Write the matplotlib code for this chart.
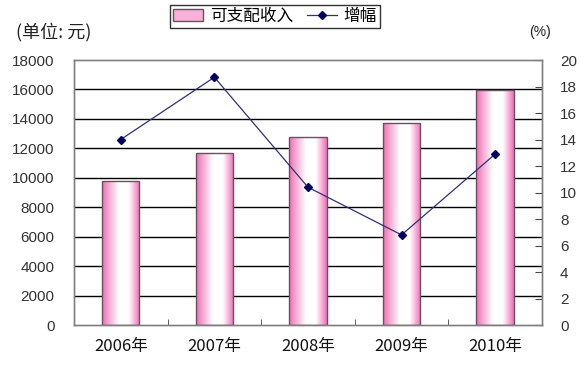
import numpy as np
import matplotlib
matplotlib.use('Agg')
import matplotlib.pyplot as plt
from matplotlib.colors import LinearSegmentedColormap
from matplotlib.lines import Line2D
from matplotlib.patches import Patch

plt.rcParams['font.family'] = ['Liberation Sans', 'Noto Sans CJK SC', 'DejaVu Sans']

# data
years = ['2006年', '2007年', '2008年', '2009年', '2010年']
income = [9800, 11650, 12800, 13750, 15950]
growth = [14.0, 18.7, 10.4, 6.8, 12.9]

fig = plt.figure(figsize=(5.82, 3.67), dpi=100)
ax = fig.add_axes([0.1271, 0.1144, 0.8041, 0.7221])
ax2 = ax.twinx()

x = np.arange(len(years))
gray = '#808080'

# horizontal grid
ax.set_ylim(0, 18000)
ax.set_yticks(np.arange(0, 18001, 2000))
for yv in range(2000, 18000, 2000):
    ax.axhline(yv, color='black', lw=1.0, zorder=1)

# bars with pink-white gradient
bars = ax.bar(x, income, width=0.4, color='none', edgecolor='#6a5060', lw=1.0, zorder=3)
cmap = LinearSegmentedColormap.from_list('pk', ['#f070b4', '#ffffff', '#ffffff', '#f070b4'])
grad = np.concatenate([np.linspace(0, 0.45, 60), np.linspace(0.55, 1, 40)]).reshape(1, -1)
for b in bars:
    bx, by = b.get_x(), b.get_y()
    im = ax.imshow(grad, cmap=cmap, aspect='auto', zorder=2,
                   extent=[bx, bx + b.get_width(), by, by + b.get_height()])
    im.set_clip_path(b)

ax.set_xlim(-0.5, len(years) - 0.5)
ax.set_xticks(x)
ax.set_xticklabels(years, fontsize=12, family=['Noto Sans CJK SC'], color='#111111')
ax.tick_params(axis='x', length=0, pad=9)
ax.set_xticks(np.arange(0.5, len(years) - 1, 1), minor=True)
ax.tick_params(axis='x', which='minor', direction='in', length=4, color='#444444')
ax.tick_params(axis='y', length=0, pad=14, labelsize=11, labelcolor='#333333')

# growth line
ax2.plot(x, growth, color='#303078', lw=0.9, marker='D', markersize=4,
         markerfacecolor='#000060', markeredgecolor='#000060', zorder=5)
ax2.set_ylim(0, 20)
ax2.set_yticks(np.arange(0, 21, 2))
ax2.tick_params(axis='y', direction='in', length=5, color='#444444', pad=13,
                labelsize=11, labelcolor='#333333')

for a in (ax, ax2):
    for s in a.spines.values():
        s.set_color(gray)
        s.set_linewidth(1.0)

fig.text(0.028, 0.912, '(单位: 元)', fontsize=13, family=['Noto Sans CJK SC'],
         color='#222222', va='center')
fig.text(0.91, 0.912, '(%)', fontsize=10, color='#222222', va='center')

handles = [Patch(facecolor='#f7b0d6', edgecolor='#6a5060', lw=1.0),
           Line2D([], [], color='#303078', lw=0.9, marker='D', markersize=4,
                  markerfacecolor='#000060', markeredgecolor='#000060')]
leg = fig.legend(handles, ['可支配收入', '增幅'], loc='center', bbox_to_anchor=(0.4725, 0.955),
                 ncol=2, frameon=True, fancybox=False, edgecolor='black',
                 prop={'family': ['Noto Sans CJK SC'], 'size': 12},
                 handlelength=1.8, handletextpad=0.4, columnspacing=0.8,
                 borderpad=0.2)
leg.get_frame().set_linewidth(1.0)

fig.savefig('out.png', dpi=100)
